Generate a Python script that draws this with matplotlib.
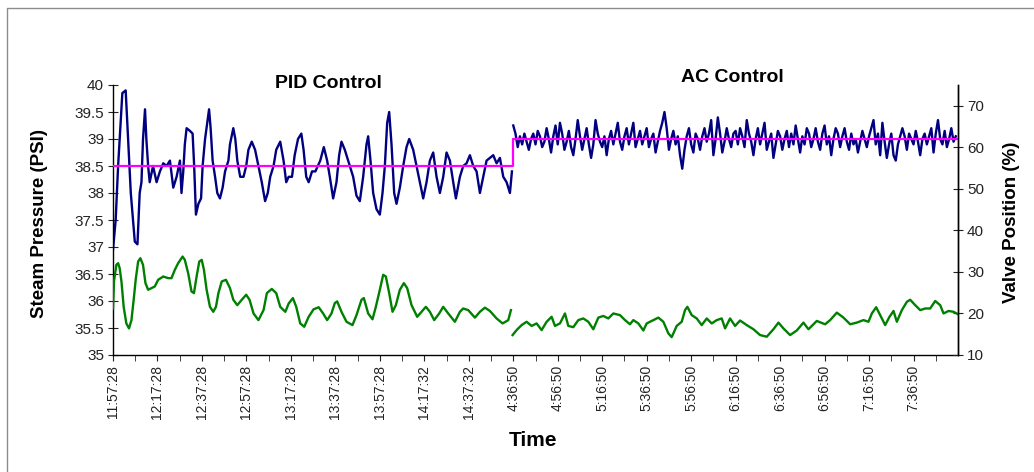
import numpy as np
import matplotlib

matplotlib.use("Agg")
import matplotlib.pyplot as plt
from matplotlib.lines import Line2D

plt.rcParams["font.family"] = ["Liberation Sans", "DejaVu Sans"]

# minutes on the plot's axis (PID run 0-180, AC run 180-380)
tick_labels = ["11:57:28", "12:17:28", "12:37:28", "12:57:28", "13:17:28", "13:37:28",
               "13:57:28", "14:17:32", "14:37:32", "4:36:50", "4:56:50", "5:16:50",
               "5:36:50", "5:56:50", "6:16:50", "6:36:50", "6:56:50", "7:16:50", "7:36:50"]

# steam pressure during PID control (minute, PSI)
pid_t = [0, 1.2, 2.3, 3.0, 4.2, 5.7, 6.8, 8.0, 9.0, 9.8, 11.0, 12.0, 12.8, 13.5, 14.4, 15.0,
         15.8, 16.5, 18.0, 19.6, 21.1, 22.6, 24.1, 25.6, 27.1, 28.6, 30.1, 30.8, 31.6, 32.3,
         33.1, 34.6, 35.8, 36.5, 37.3, 38.4, 39.6, 40.3, 41.4, 42.4, 43.2, 43.9, 44.8, 45.9,
         46.9, 48.1, 49.3, 50.4, 51.9, 52.6, 54.1, 55.0, 55.9, 57.2, 58.7, 59.9, 60.9, 62.4,
         63.9, 65.4, 66.9, 68.4, 69.6, 70.7, 72.2, 73.4, 75.2, 76.7, 77.9, 79.0, 80.5, 81.7,
         83.2, 84.7, 85.7, 86.9, 88.0, 89.5, 91.0, 93.2, 94.8, 96.3, 97.5, 99.0, 100.5, 101.7,
         102.75, 104.25, 106.5, 108, 109.5, 111, 112.5, 114, 114.75, 115.8, 117, 118.5, 120,
         121.2, 122.25, 123.3, 124.2, 125.25, 126.45, 127.5, 129, 130.5, 132, 133.2, 135,
         136.5, 138, 139.5, 141, 142.5, 144, 145.5, 147, 148.5, 150, 151.5, 153, 154.2, 156,
         157.5, 159, 160.5, 162, 163.5, 165, 166.5, 168, 169.5, 171, 172.5, 174, 175.5, 177,
         178.5, 179.4]
pid_psi = [36.95, 37.5, 38.5, 39.0, 39.85, 39.9, 39.0, 38.0, 37.5, 37.1, 37.05, 38.0, 38.2,
           39.0, 39.55, 39.0, 38.5, 38.2, 38.5, 38.2, 38.4, 38.55, 38.5, 38.6, 38.1, 38.3,
           38.6, 38.0, 38.4, 38.9, 39.2, 39.15, 39.1, 38.5, 37.6, 37.8, 37.9, 38.5, 39.0,
           39.3, 39.55, 39.2, 38.6, 38.3, 38.0, 37.9, 38.1, 38.4, 38.6, 38.9, 39.2, 39.0, 38.6,
           38.3, 38.3, 38.5, 38.8, 38.95, 38.8, 38.5, 38.2, 37.85, 38.0, 38.3, 38.5, 38.8,
           38.95, 38.6, 38.2, 38.3, 38.3, 38.7, 39.0, 39.1, 38.8, 38.3, 38.2, 38.4, 38.4, 38.6,
           38.85, 38.6, 38.3, 37.9, 38.2, 38.7, 38.95, 38.8, 38.5, 38.3, 37.95, 37.85, 38.3,
           38.9, 39.05, 38.6, 38.0, 37.7, 37.6, 38.0, 38.5, 39.3, 39.5, 38.9, 38.0, 37.8, 38.1,
           38.5, 38.85, 39.0, 38.8, 38.5, 38.2, 37.9, 38.2, 38.6, 38.75, 38.3, 38.0, 38.3,
           38.75, 38.6, 38.2, 37.9, 38.3, 38.5, 38.55, 38.7, 38.5, 38.4, 38.0, 38.3, 38.6,
           38.65, 38.7, 38.55, 38.65, 38.3, 38.2, 38.0, 38.4]

# steam pressure during AC control, one reading per minute from minute 180
ac_psi = [39.25, 39.1, 38.85, 39.05, 38.9, 39.1, 38.95, 38.8, 39.0, 39.1, 38.9, 39.15, 39.05, 38.85, 38.95, 39.2, 39.0, 38.75, 39.05, 39.25,
          38.9, 39.3, 39.1, 38.8, 38.95, 39.15, 38.85, 38.7, 39.0, 39.35, 39.05, 38.8, 39.0, 39.2, 38.9, 38.65, 38.9, 39.35, 39.1, 38.95,
          38.85, 39.05, 38.7, 39.0, 39.15, 38.9, 39.1, 39.3, 38.95, 38.8, 39.05, 39.2, 38.9, 39.1, 39.3, 38.85, 39.0, 39.15, 38.9, 39.05,
          39.2, 38.85, 39.0, 39.1, 38.75, 38.95, 39.15, 39.3, 39.5, 39.2, 38.8, 39.0, 39.15, 38.9, 39.05, 38.7, 38.45, 38.8, 39.05, 39.2,
          38.9, 38.75, 39.1, 39.0, 38.8, 39.05, 39.2, 38.95, 39.1, 39.35, 38.7, 39.0, 39.4, 39.1, 38.75, 38.95, 39.2, 39.0, 38.85, 39.1,
          39.15, 38.9, 39.2, 39.05, 38.85, 39.35, 39.1, 38.95, 38.7, 39.0, 39.2, 38.9, 39.1, 39.3, 38.8, 38.95, 39.1, 38.65, 38.9, 39.15,
          39.05, 38.8, 39.0, 39.15, 38.85, 39.1, 38.9, 39.25, 39.0, 38.75, 39.05, 38.9, 39.2, 39.1, 38.85, 39.0, 39.2, 38.95, 38.8, 39.1,
          39.25, 38.9, 39.05, 38.7, 39.0, 39.2, 39.1, 38.85, 39.05, 39.2, 38.95, 38.8, 39.1, 38.9, 39.0, 38.75, 38.95, 39.15, 39.0, 38.85,
          39.05, 39.2, 39.35, 38.9, 39.1, 38.7, 39.3, 38.95, 38.65, 38.9, 39.1, 38.7, 38.6, 38.9, 39.05, 39.2, 39.05, 38.8, 39.1, 39.0,
          38.9, 39.15, 38.95, 38.7, 39.0, 39.1, 38.9, 39.05, 39.2, 38.75, 39.1, 39.35, 39.0, 38.9, 39.15, 38.85, 39.0, 39.2, 38.95, 39.05]

# valve position (minute, %)
valve_t = [0, 0.45, 1.5, 2.3, 3.0, 3.8, 4.8, 6.0, 7.2, 8.3, 9.3, 10.2, 11.3, 12.3, 13.5, 14.6,
           15.8, 17.3, 18.8, 20.3, 22.6, 24.8, 26.3, 27.8, 29.3, 31.3, 32.3, 33.8, 35.3, 36.4,
           37.6, 38.8, 39.9, 40.9, 42.1, 43.6, 45.1, 46.3, 47.4, 48.9, 50.8, 52.6, 54.1, 55.9,
           57.9, 59.9, 61.4, 63.2, 65.4, 67.7, 69.2, 71.4, 73.4, 75.2, 77.5, 79.0, 80.9, 82.4,
           84.2, 86.0, 88.0, 90.2, 92.5, 94.5, 96.3, 98.25, 99.75, 100.8, 102.75, 105, 107.7,
           109.5, 111.75, 112.8, 114.75, 116.7, 118.2, 120, 121.5, 122.7, 124.2, 125.7, 127.2,
           129, 130.8, 132.3, 134.25, 136.8, 138.75, 140.7, 142.5, 144.45, 146.7, 148.5, 150.75,
           153.75, 156, 157.5, 159.75, 162.75, 165, 167.25, 169.5, 172.5, 175.2, 177.75, 178.95]
valve_pct = [21.2, 27.7, 31.7, 32.1, 30.9, 27.7, 21.6, 17.6, 16.4, 18.4, 23.3, 28.1, 32.5, 33.3,
             31.7, 27.3, 25.7, 26.1, 26.5, 28.1, 28.9, 28.5, 28.5, 30.5, 32.1, 33.7, 32.9, 29.7,
             25.3, 24.9, 28.9, 32.5, 32.9, 30.5, 25.7, 21.6, 20.4, 21.6, 24.9, 27.7, 28.1, 26.1,
             23.3, 22.0, 23.3, 24.5, 23.3, 20.0, 18.4, 20.8, 24.9, 25.9, 24.9, 21.6, 20.4, 22.4,
             23.7, 21.6, 17.6, 16.8, 19.2, 21.0, 21.5, 20.0, 18.4, 20.0, 22.5, 22.9, 20.4, 18.0,
             17.2, 19.6, 23.3, 23.7, 20.0, 18.6, 21.6, 25.7, 29.3, 28.9, 24.9, 20.4, 22.0, 25.7,
             27.3, 26.1, 22.0, 19.2, 20.4, 21.6, 20.4, 18.4, 20.0, 21.6, 20.0, 18.0, 20.4, 21.2,
             20.8, 19.0, 20.4, 21.4, 20.6, 18.8, 17.6, 18.4, 20.8]
ac_valve_t = [179.7, 181.5, 183.75, 186, 188.25, 190.5, 192.75, 195, 197.25, 198.75, 201,
              203.25, 204.75, 207, 209.25, 211.5, 213.75, 216, 218.25, 220.5, 222.75, 225, 228,
              230.25, 232.5, 234, 236.25, 238.5, 240, 243, 245.25, 247.5, 249.75, 251.25, 253.5,
              255.75, 257.25, 258.3, 260.25, 262.5, 264.75, 267, 269.25, 271.5, 273.75, 275.25,
              277.5, 279.75, 282, 285, 288, 291, 294, 297, 299.25, 301.5, 304.5, 307.5, 310.5,
              312.75, 316.5, 320.25, 322.5, 325.5, 328.5, 331.5, 334.5, 337.5, 339.75, 341.25,
              343.2, 345, 347.25, 349.2, 351, 352.5, 354.75, 357, 358.5, 360.75, 363, 365.25,
              367.5, 369.75, 372, 373.5, 375.75, 378, 380]
ac_valve_pct = [14.8, 16.0, 17.2, 18.0, 17.0, 17.6, 16.0, 18.0, 19.2, 17.0, 17.6, 20.0, 17.0,
                16.7, 18.4, 18.8, 18.0, 16.2, 19.0, 19.4, 18.8, 20.0, 19.6, 18.4, 17.4, 18.4,
                17.6, 15.9, 17.6, 18.4, 19.0, 18.0, 15.2, 14.3, 17.0, 18.0, 20.8, 21.6, 19.6,
                18.8, 17.2, 18.8, 17.6, 18.4, 18.8, 16.4, 18.8, 17.0, 18.3, 17.2, 16.2, 14.8,
                14.4, 16.2, 17.8, 16.4, 14.8, 15.9, 17.8, 16.2, 18.2, 17.4, 18.4, 20.2, 19.0,
                17.4, 17.8, 18.4, 18.0, 20.0, 21.5, 19.6, 17.2, 19.2, 20.6, 18.0, 20.8, 22.8,
                23.3, 22.0, 20.8, 21.2, 21.2, 23.0, 22.0, 20.0, 20.6, 20.4, 19.8]

# pressure set point
sp_t = [0, 180, 180, 380]
sp_psi = [38.5, 38.5, 39.0, 39.0]

W, H = 1034, 472
fig = plt.figure(figsize=(W / 100, H / 100), dpi=100)
fig.patch.set_facecolor("white")

ax = fig.add_axes([113 / W, (H - 355) / H, (958 - 113) / W, (355 - 85) / H])
ax2 = ax.twinx()

navy, green, magenta = "#000080", "#008000", "#FF00FF"
ac_t = 180 + np.arange(len(ac_psi))

ax.plot(pid_t, pid_psi, color=navy, lw=1.7)
ax.plot(ac_t, ac_psi, color=navy, lw=1.7)
ax2.plot(valve_t, valve_pct, color=green, lw=1.7)
ax2.plot(ac_valve_t, ac_valve_pct, color=green, lw=1.7)
ax.plot(sp_t, sp_psi, color=magenta, lw=1.6, zorder=5)

ax.set_xlim(0, 380)
ax.set_ylim(35, 40)
ax2.set_ylim(10, 75)
ax.set_yticks(np.arange(35, 40.01, 0.5))
ax.set_yticklabels([f"{v:g}" for v in np.arange(35, 40.01, 0.5)])
ax2.set_yticks(range(10, 71, 10))

ax.set_xticks(range(0, 380, 20))
ax.set_xticklabels(tick_labels, rotation=90, fontsize=10)
ax.set_xticks(range(10, 380, 20), minor=True)

for a in (ax, ax2):
    a.spines["top"].set_visible(False)
    a.patch.set_visible(False)
    for s in a.spines.values():
        s.set_linewidth(1.0)
ax2.spines["left"].set_visible(False)
ax2.spines["bottom"].set_visible(False)

ax.tick_params(axis="y", direction="inout", length=7, labelsize=11, colors="#222222", pad=3)
ax2.tick_params(axis="y", direction="inout", length=7, labelsize=11, colors="#222222", pad=3)
ax.tick_params(axis="x", which="both", direction="out", length=4, colors="#222222", pad=3)

fig.text(40 / W, 1 - 224 / H, "Steam Pressure (PSI)", rotation=90, ha="center", va="center",
         fontsize=13.5, fontweight="bold")
fig.text(1011 / W, 1 - 222 / H, "Valve Position (%)", rotation=90, ha="center", va="center",
         fontsize=13.5, fontweight="bold")
fig.text(328 / W, 1 - 83 / H, "PID Control", ha="center", va="center", fontsize=14, fontweight="bold")
fig.text(732 / W, 1 - 78 / H, "AC Control", ha="center", va="center", fontsize=14, fontweight="bold")
fig.text(533 / W, 1 - 440 / H, "Time", ha="center", va="center", fontsize=15, fontweight="bold")

# chart area border (left and top edges)
fig.add_artist(Line2D([7 / W, 7 / W, 1], [0, 1 - 8 / H, 1 - 8 / H], color="#8c8c8c", lw=1.0))

fig.savefig("out.png", dpi=100)
